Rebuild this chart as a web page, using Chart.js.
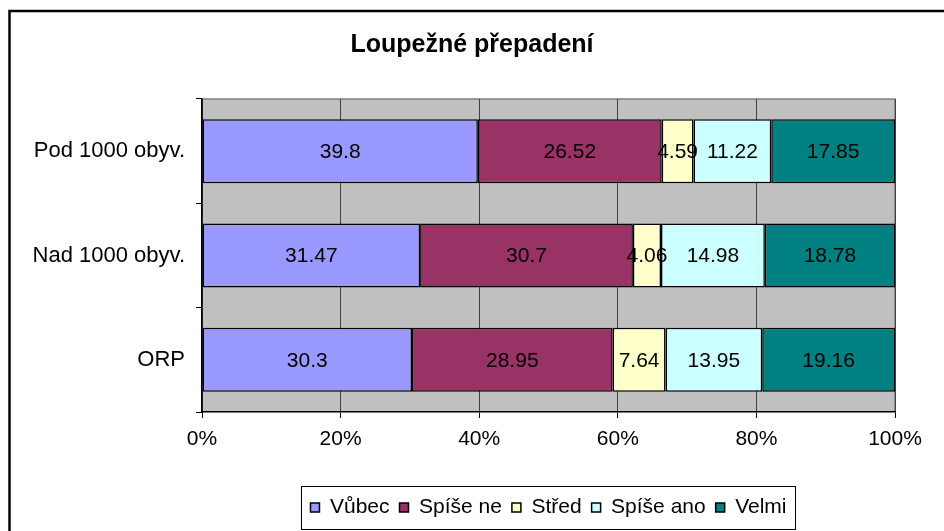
<!DOCTYPE html>
<html>
<head>
<meta charset="utf-8">
<script src="https://cdn.jsdelivr.net/npm/chart.js@4/dist/chart.umd.min.js"></script>
<style>
  html, body { margin: 0; padding: 0; background: #fff; }
  #wrap { width: 944px; height: 531px; position: relative; }
</style>
</head>
<body>
<div id="wrap"><canvas id="c" width="944" height="531"></canvas></div>
<script>
const chartTitle = 'Loupežné přepadení';
const categories = ['Pod 1000 obyv.', 'Nad 1000 obyv.', 'ORP'];
const seriesNames = ['Vůbec', 'Spíše ne', 'Střed', 'Spíše ano', 'Velmi'];
const vubec = [39.8, 31.47, 30.3];
const spiseNe = [26.52, 30.7, 28.95];
const stred = [4.59, 4.06, 7.64];
const spiseAno = [11.22, 14.98, 13.95];
const velmi = [17.85, 18.78, 19.16];
const xTickValues = [0, 20, 40, 60, 80, 100];
const seriesColors = ['#9999FF', '#993366', '#FFFFCC', '#CCFFFF', '#008080'];

const FONT = '"Liberation Sans", Arial, Helvetica, sans-serif';
const allSeries = [vubec, spiseNe, stred, spiseAno, velmi];
const rowSums = categories.map((_, i) => allSeries.reduce((s, a) => s + a[i], 0));

const datasets = allSeries.map((arr, k) => ({
  label: seriesNames[k],
  raw: arr,
  data: arr.map((v, i) => v / rowSums[i] * 100),
  backgroundColor: seriesColors[k],
  borderColor: '#000',
  borderWidth: 1.5,
  borderSkipped: false,
  barPercentage: 0.614,
  categoryPercentage: 1.0
}));

const decorPlugin = {
  id: 'decor',
  afterLayout(chart) {
    // centre the title over the whole canvas, as in the reference
    if (chart.titleBlock) {
      chart.titleBlock.left = 0;
      chart.titleBlock.right = chart.width;
      chart.titleBlock.width = chart.width;
    }
  },
  beforeDraw(chart) {
    const ctx = chart.ctx, a = chart.chartArea;
    ctx.save();
    ctx.fillStyle = '#fff';
    ctx.fillRect(0, 0, chart.width, chart.height);
    ctx.strokeStyle = '#000';
    ctx.lineWidth = 2.5;
    ctx.beginPath();
    ctx.moveTo(9.5, chart.height + 5);
    ctx.lineTo(9.5, 11);
    ctx.lineTo(chart.width + 5, 11);
    ctx.stroke();
    ctx.fillStyle = '#C0C0C0';
    ctx.fillRect(a.left, a.top, a.right - a.left, a.bottom - a.top);
    ctx.strokeStyle = '#808080';
    ctx.lineWidth = 1.5;
    ctx.beginPath();
    ctx.moveTo(a.left, a.top);
    ctx.lineTo(a.right, a.top);
    ctx.lineTo(a.right, a.bottom);
    ctx.stroke();
    ctx.restore();
  },
  afterDatasetsDraw(chart) {
    const ctx = chart.ctx;
    ctx.save();
    ctx.font = '21px ' + FONT;
    ctx.fillStyle = '#000';
    ctx.textAlign = 'center';
    ctx.textBaseline = 'middle';
    chart.data.datasets.forEach((ds, di) => {
      const meta = chart.getDatasetMeta(di);
      meta.data.forEach((el, i) => {
        const x = (el.x + el.base) / 2;
        ctx.fillText(String(ds.raw[i]), x, el.y + 1);
      });
    });
    ctx.restore();
  },
  afterDraw(chart) {
    const lg = chart.legend;
    if (!lg || !lg.legendHitBoxes || !lg.legendHitBoxes.length) return;
    const hb = lg.legendHitBoxes;
    const left = Math.min(...hb.map(h => h.left)) - 9;
    const right = Math.max(...hb.map(h => h.left + h.width)) + 9;
    const ctx = chart.ctx;
    ctx.save();
    ctx.strokeStyle = '#000';
    ctx.lineWidth = 1;
    ctx.strokeRect(Math.round(left) + 0.5, 486.5, Math.round(right - left), 43);
    ctx.restore();
  }
};

new Chart(document.getElementById('c'), {
  type: 'bar',
  data: { labels: categories, datasets: datasets },
  options: {
    indexAxis: 'y',
    responsive: false,
    animation: false,
    devicePixelRatio: 1,
    layout: { padding: { left: 0, right: 49, top: 0, bottom: 3 } },
    scales: {
      x: {
        stacked: true,
        min: 0,
        max: 100,
        afterFit(s) { s.height = 75; },
        afterBuildTicks(s) { s.ticks = xTickValues.map(v => ({ value: v })); },
        ticks: {
          callback: v => v + '%',
          color: '#000',
          font: { family: FONT, size: 21 },
          padding: 9,
          maxRotation: 0
        },
        grid: {
          color: '#404040',
          lineWidth: 1,
          drawOnChartArea: true,
          tickLength: 6,
          tickColor: '#000'
        },
        border: { color: '#000', width: 1.5 }
      },
      y: {
        stacked: true,
        afterFit(s) { s.width = 202; },
        ticks: {
          color: '#000',
          font: { family: FONT, size: 22 },
          padding: 11
        },
        grid: {
          offset: true,
          drawOnChartArea: false,
          tickLength: 6,
          color: '#000'
        },
        border: { color: '#000', width: 1.5 }
      }
    },
    plugins: {
      title: {
        display: true,
        text: chartTitle,
        color: '#000',
        font: { family: FONT, size: 25, weight: 'bold' },
        padding: { top: 30, bottom: 39 }
      },
      legend: {
        display: true,
        position: 'bottom',
        fullSize: false,
        labels: {
          color: '#000',
          font: { family: FONT, size: 21 },
          boxWidth: 9,
          boxHeight: 9,
          padding: 10
        }
      },
      tooltip: { enabled: false }
    }
  },
  plugins: [decorPlugin]
});
</script>
</body>
</html>
